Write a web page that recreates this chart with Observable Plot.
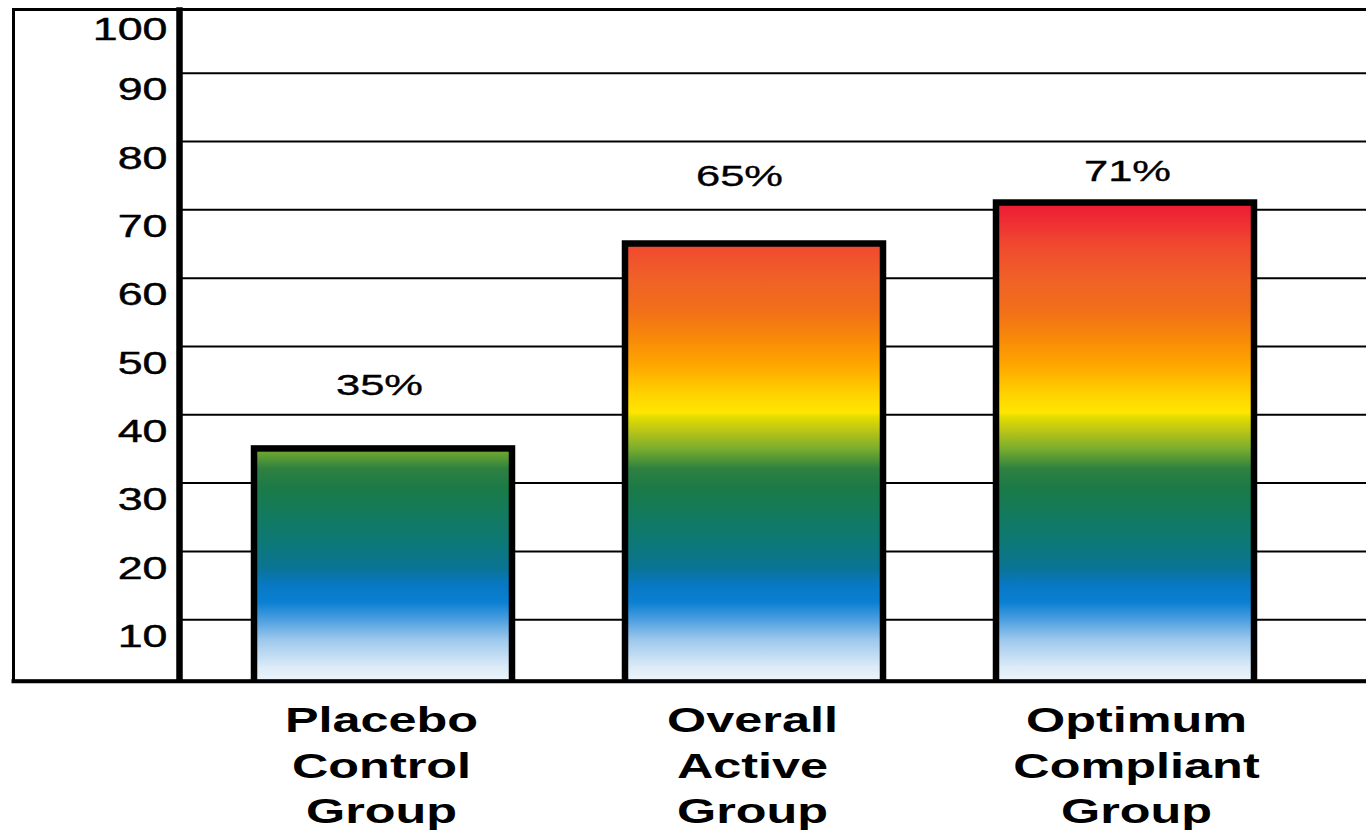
<!DOCTYPE html>
<html>
<head>
<meta charset="utf-8">
<script src="https://cdn.jsdelivr.net/npm/d3@7"></script>
<script src="https://cdn.jsdelivr.net/npm/@observablehq/plot@0.6"></script>
<style>
  html, body { margin: 0; padding: 0; background: #fff; }
</style>
</head>
<body>
<div id="chart"></div>
<script>
// ---- data ----
const categories = ["Placebo Control Group", "Overall Active Group", "Optimum Compliant Group"];
const values = [35, 65, 71];
const yTickValues = [10, 20, 30, 40, 50, 60, 70, 80, 90, 100];
const gridValues = [10, 20, 30, 40, 50, 60, 70, 80, 90];

// ---- gradient (value-based colour stops) ----
const gradientValues = [0, 3, 7, 10, 12.5, 15, 17.5, 21, 25, 29, 32, 35, 37.5, 39.5, 40.3, 43, 47, 51, 55, 60, 65, 70, 75];
const gradientColors = ["#f4f9fc", "#dcebf7", "#9cc8ec", "#4a9ee0", "#0a80d2", "#0878c4", "#0a7494", "#0d7878", "#127a60", "#1a7a48", "#2e8040", "#7aae2e", "#b8c418", "#e0dc00", "#ffe600", "#ffd200", "#ffa800", "#f88a08", "#f27018", "#f06028", "#f04830", "#ee2034", "#ec1a36"];

const data = categories.map((c, i) => ({category: c, value: values[i]}));
const font = "'Liberation Sans', Arial, Helvetica, sans-serif";

function pctLabel(i, dx, dy) {
  return Plot.text([i], {
    x: (j) => categories[j],
    y: (j) => values[j],
    text: (j) => values[j] + "%",
    dx, dy,
    fontSize: 29,
    fill: "black",
    stroke: "black",
    strokeWidth: 0.35,
    ariaDescription: "pct"
  });
}

function tickLabels(ticks, dy) {
  return Plot.text(ticks, {
    y: (d) => d,
    text: (d) => String(d),
    frameAnchor: "left",
    textAnchor: "end",
    dx: -12,
    dy,
    fontSize: 32,
    fill: "black",
    stroke: "black",
    strokeWidth: 0.45,
    ariaDescription: "ytick"
  });
}

function categoryLabel(i, dx) {
  return Plot.text([i], {
    x: (j) => categories[j],
    text: (j) => categories[j].split(" ").join("\n"),
    frameAnchor: "bottom",
    lineAnchor: "top",
    dx,
    dy: 18,
    fontSize: 35,
    fontWeight: "bold",
    lineHeight: 1.31,
    fill: "black",
    ariaDescription: "xlabel"
  });
}

const chart = Plot.plot({
  width: 1366,
  height: 835,
  marginTop: 9,
  marginBottom: 154.3,
  marginLeft: 179,
  marginRight: 0,
  style: {fontFamily: font, background: "white", color: "black", overflow: "visible"},
  x: {type: "band", domain: categories, paddingInner: 0.3055, paddingOuter: 0.25, align: 0.4, axis: null},
  y: {domain: [1.0, 99.33], axis: null},
  marks: [
    Plot.ruleY(gridValues, {stroke: "black", strokeWidth: 2}),
    Plot.barY(data, {x: "category", y: "value", fill: "url(#barGradient)", stroke: "black", strokeWidth: 6.5, clip: true}),
    Plot.frame({stroke: "black", strokeWidth: 3, insetLeft: -166, insetRight: -10}),
    Plot.frame({anchor: "bottom", stroke: "black", strokeWidth: 4, insetLeft: -166, insetRight: -10}),
    Plot.frame({anchor: "left", stroke: "black", strokeWidth: 6.5, insetTop: 1, insetBottom: 2}),
    tickLabels(yTickValues.filter((d) => d < 100), 17),
    tickLabels(yTickValues.filter((d) => d === 100), 25),
    pctLabel(0, -4, -63.6),
    pctLabel(1, -15, -66.9),
    pctLabel(2, 2, -31.5),
    categoryLabel(0, -2),
    categoryLabel(1, -2),
    categoryLabel(2, 11)
  ]
});

// gradient defs tied to the y scale
const yS = chart.scale("y");
const svg = d3.select(chart);
const defs = svg.insert("defs", ":first-child");
const lg = defs.append("linearGradient")
  .attr("id", "barGradient")
  .attr("gradientUnits", "userSpaceOnUse")
  .attr("x1", 0).attr("x2", 0)
  .attr("y1", yS.apply(0)).attr("y2", yS.apply(100));
gradientValues.forEach((v, i) => {
  lg.append("stop").attr("offset", v / 100).attr("stop-color", gradientColors[i]);
});

// horizontal stretch of the type, as in the reference
function stretchText(t, s) {
  const tr = t.getAttribute("transform");
  if (tr) {
    t.setAttribute("transform", tr + ` scale(${s},1)`);
  } else {
    const x = +t.getAttribute("x") || 0, y = +t.getAttribute("y") || 0;
    t.removeAttribute("x"); t.removeAttribute("y");
    t.setAttribute("transform", `translate(${x},${y}) scale(${s},1)`);
  }
}
function stretch(label, s) {
  chart.querySelectorAll(`g[aria-description="${label}"] text`).forEach((t) => stretchText(t, s));
}
stretch("ytick", 1.4);
stretch("pct", 1.5);
stretch("xlabel", 1.44);

document.getElementById("chart").appendChild(chart);
</script>
</body>
</html>
